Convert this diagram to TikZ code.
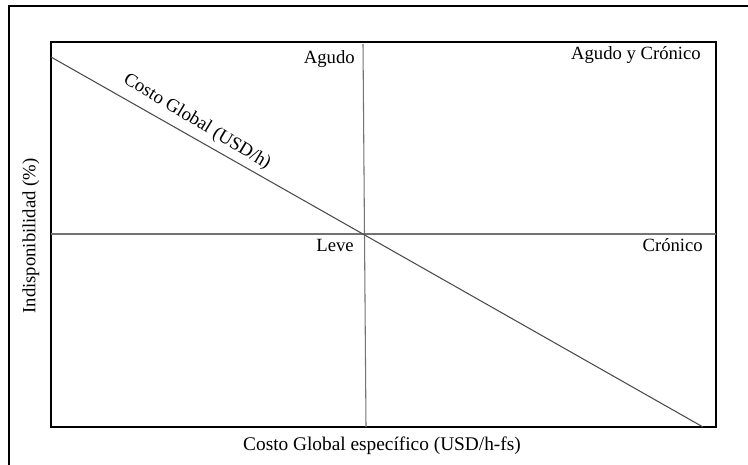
\documentclass[tikz,border=0pt]{standalone}
\usepackage{fontspec}
\setmainfont{Liberation Serif}
\begin{document}
\begin{tikzpicture}[x=0.75pt,y=-0.75pt,
  frame/.style={line width=0.9pt,black},
  axisline/.style={line width=0.8pt,black!55},
  costline/.style={line width=0.8pt,black!70},
  lbl/.style={inner sep=0pt,font=\fontsize{14}{16}\selectfont}]
\useasboundingbox (0,0) rectangle (748,464);
% outer frame (partial)
\coordinate (o1) at (9,470);
\coordinate (o2) at (9,6);
\coordinate (o3) at (760,6);
\draw[frame] (o1) -- (o2) -- (o3);
% inner box
\coordinate (tl) at (51,42);
\coordinate (br) at (716,427);
\draw[frame] (tl) rectangle (br);
% quadrant lines
\coordinate (vt) at (363,44);
\coordinate (vb) at (366,427);
\coordinate (hl) at (51,234);
\coordinate (hr) at (716,234);
\draw[axisline] (vt) -- (vb);
\draw[axisline] (hl) -- (hr);
% cost line
\coordinate (c1) at (51,57);
\coordinate (c2) at (703,427);
\draw[costline] (c1) -- (c2);
% labels
\node[lbl,anchor=east] (agudo) at (355,59) {Agudo};
\node[lbl,anchor=east] (ayc) at (701,55) {Agudo y Crónico};
\node[lbl,anchor=east] (leve) at (354,245) {Leve};
\node[lbl,anchor=east] (cron) at (703,245) {Crónico};
\node[lbl,rotate=90] (ylab) at (31,236) {Indisponibilidad (\%)};
\node[lbl,font=\fontsize{14.5}{16}\selectfont] (xlab) at (382,446) {Costo Global específico (USD/h-fs)};
\node[lbl,rotate=-31] (cg) at (197,122) {Costo Global (USD/h)};
\end{tikzpicture}
\end{document}
